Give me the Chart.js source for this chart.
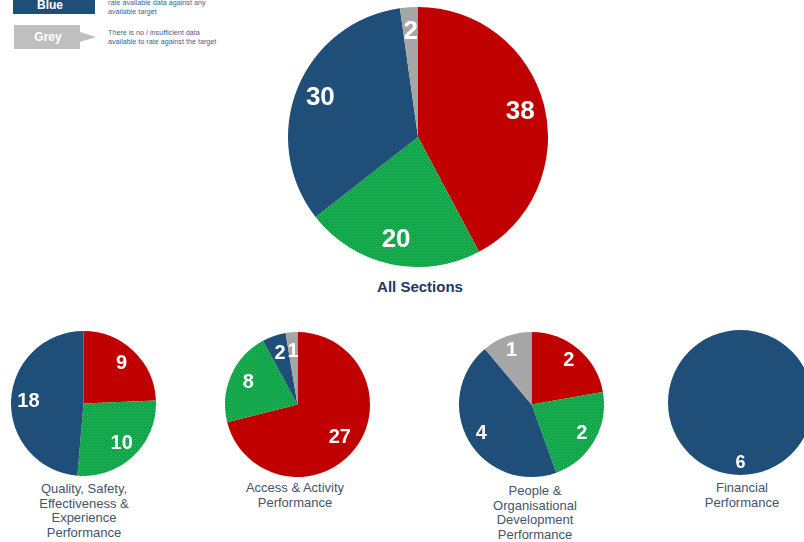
<!DOCTYPE html>
<html>
<head>
<meta charset="utf-8">
<script src="https://cdn.jsdelivr.net/npm/chart.js@4.4.0/dist/chart.umd.min.js"></script>
<style>
  html, body { margin: 0; padding: 0; background: #fff; width: 804px; height: 542px; overflow: hidden; position: relative; font-family: "Liberation Sans", Arial, sans-serif; }
  canvas { position: absolute; }
  .key { position: absolute; color: #fff; font-weight: bold; font-size: 12px; display: flex; align-items: center; justify-content: center; }
  .blue { background: #1f4e79; left: 13px; top: -12px; width: 82px; height: 26px; }
  .grey { background: #bfbfbf; left: 14px; top: 25px; width: 82px; height: 24px; clip-path: polygon(0 0, 80.5% 0, 80.5% 29%, 100% 50%, 80.5% 71%, 80.5% 100%, 0 100%); }
  .note { position: absolute; left: 108px; font-size: 7.2px; line-height: 9px; color: #3d5f96; }
  .title { position: absolute; text-align: center; color: #44546a; font-size: 13px; line-height: 14.5px; transform: translateX(-50%); white-space: nowrap; }
  .main-title { position: absolute; left: 420px; top: 278px; transform: translateX(-50%); font-weight: bold; font-size: 15px; color: #1f3864; }
</style>
</head>
<body>
<div class="key blue"><span style="margin-top:8px;padding-right:8px">Blue</span></div>
<div class="note" style="top:-2px">rate available data against any<br>available target</div>
<div class="key grey"><span style="padding-right:14px">Grey</span></div>
<div class="note" style="top:28px">There is no / insufficient data<br>available to rate against the target</div>

<canvas id="pieAll" width="260" height="260" style="left:288px;top:7px"></canvas>
<div class="main-title">All Sections</div>

<canvas id="pieQuality" width="145" height="145" style="left:11px;top:331px"></canvas>
<div class="title" style="left:84px;top:482px">Quality, Safety,<br>Effectiveness &amp;<br>Experience<br>Performance</div>

<canvas id="pieAccess" width="145" height="145" style="left:225px;top:332px"></canvas>
<div class="title" style="left:295px;top:481px">Access &amp; Activity<br>Performance</div>

<canvas id="piePeople" width="145" height="145" style="left:459px;top:332px"></canvas>
<div class="title" style="left:535px;top:484px">People &amp;<br>Organisational<br>Development<br>Performance</div>

<canvas id="pieFinancial" width="145" height="145" style="left:668px;top:330px"></canvas>
<div class="title" style="left:742px;top:481px">Financial<br>Performance</div>

<script>
const statusLabels = ["Red", "Green", "Blue", "Grey"];
const allSections = [38, 20, 30, 2];
const qualityValues = [9, 10, 18, 0];
const accessValues = [27, 8, 2, 1];
const peopleValues = [2, 2, 4, 1];
const financialValues = [0, 0, 6, 0];

const red = "#c00000";
const blue = "#1f4e79";
const grey = "#a6a6a6";

// dotted green fill like the original
function greenPattern() {
  const c = document.createElement("canvas");
  c.width = 4; c.height = 4;
  const g = c.getContext("2d");
  g.fillStyle = "#10a548";
  g.fillRect(0, 0, 4, 4);
  g.fillStyle = "#3dbb6a";
  g.fillRect(0, 0, 1, 1);
  g.fillRect(2, 2, 1, 1);
  return g.createPattern(c, "repeat");
}

const valueLabels = {
  id: "valueLabels",
  afterDatasetsDraw(chart, args, opts) {
    const ctx = chart.ctx;
    const data = chart.data.datasets[0].data;
    chart.getDatasetMeta(0).data.forEach((arc, i) => {
      if (!data[i]) return;
      const a = (arc.startAngle + arc.endAngle) / 2;
      const r = arc.outerRadius * opts.dist;
      ctx.save();
      ctx.fillStyle = "#fff";
      ctx.font = "bold " + opts.size + "px 'Liberation Sans', Arial, sans-serif";
      ctx.textAlign = "center";
      ctx.textBaseline = "middle";
      ctx.fillText(String(data[i]), arc.x + Math.cos(a) * r, arc.y + Math.sin(a) * r);
      ctx.restore();
    });
  }
};

function makePie(id, values, size, dist) {
  const ctx = document.getElementById(id).getContext("2d");
  return new Chart(ctx, {
    type: "pie",
    data: {
      labels: statusLabels,
      datasets: [{
        data: values,
        backgroundColor: [red, greenPattern(), blue, grey],
        borderWidth: 0
      }]
    },
    options: {
      responsive: false,
      animation: false,
      layout: { padding: 0 },
      plugins: {
        legend: { display: false },
        tooltip: { enabled: false },
        valueLabels: { size: size, dist: dist }
      }
    },
    plugins: [valueLabels]
  });
}

makePie("pieAll", allSections, 26, 0.81);
makePie("pieQuality", qualityValues, 20, 0.76);
makePie("pieAccess", accessValues, 20, 0.74);
makePie("piePeople", peopleValues, 20, 0.8);
makePie("pieFinancial", financialValues, 18, 0.84);
</script>
</body>
</html>
